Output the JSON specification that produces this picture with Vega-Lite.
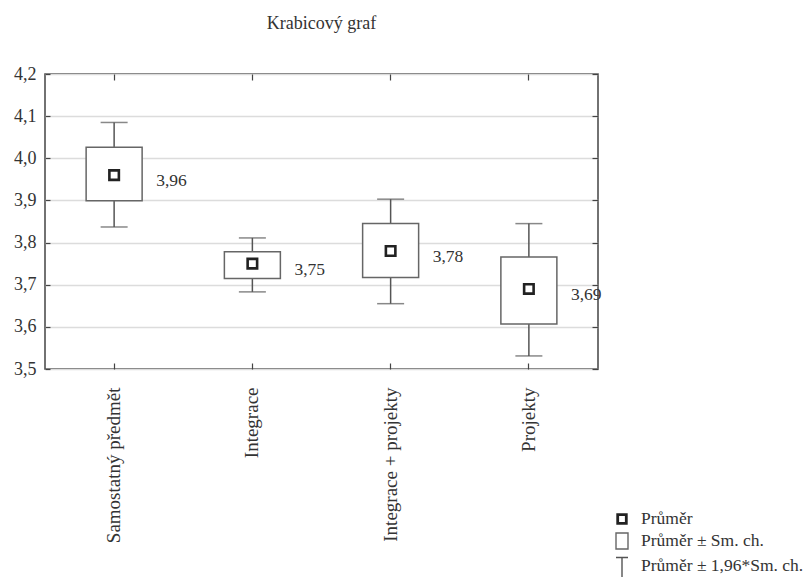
{
  "$schema": "https://vega.github.io/schema/vega-lite/v6.json",
  "width": 553,
  "height": 295,
  "autosize": {"type": "none"},
  "padding": {"left": 45, "top": 74, "right": 210, "bottom": 208},
  "background": "white",
  "title": {
    "text": "Krabicový graf",
    "font": "Liberation Serif",
    "fontSize": 18,
    "fontWeight": "normal",
    "color": "#333",
    "anchor": "middle",
    "offset": 32
  },
  "config": {
    "locale": {
      "number": {"decimal": ",", "thousands": " ", "grouping": [3], "currency": ["", " Kč"]}
    },
    "view": {"stroke": "#444", "strokeWidth": 1.5},
    "font": "Liberation Serif",
    "axis": {
      "labelFont": "Liberation Serif",
      "labelFontSize": 18,
      "labelColor": "#333",
      "tickColor": "#444",
      "tickWidth": 1.2,
      "domain": false,
      "grid": false,
      "title": null
    },
    "legend": {
      "labelFont": "Liberation Serif",
      "labelFontSize": 17.5,
      "labelColor": "#333",
      "labelLimit": 300
    }
  },
  "datasets": {
    "skupiny": [
      {"kat": "Samostatný předmět", "prumer": 3.96, "sm_lo": 3.899, "sm_hi": 4.026, "ci_lo": 3.837, "ci_hi": 4.085},
      {"kat": "Integrace", "prumer": 3.75, "sm_lo": 3.715, "sm_hi": 3.778, "ci_lo": 3.683, "ci_hi": 3.811},
      {"kat": "Integrace + projekty", "prumer": 3.78, "sm_lo": 3.717, "sm_hi": 3.845, "ci_lo": 3.655, "ci_hi": 3.903},
      {"kat": "Projekty", "prumer": 3.69, "sm_lo": 3.607, "sm_hi": 3.766, "ci_lo": 3.531, "ci_hi": 3.845}
    ],
    "polozky": [
      {"polozka": "Průměr"},
      {"polozka": "Průměr ± Sm. ch."},
      {"polozka": "Průměr ± 1,96*Sm. ch."}
    ]
  },
  "layer": [
    {
      "data": {"name": "skupiny"},
      "mark": {"type": "rule", "color": "#555", "strokeWidth": 1.5},
      "encoding": {
        "x": {
          "field": "kat",
          "type": "nominal",
          "scale": {
            "type": "band",
            "paddingInner": 0,
            "paddingOuter": 0,
            "domain": ["Samostatný předmět", "Integrace", "Integrace + projekty", "Projekty"]
          },
          "axis": {"orient": "bottom", "labelAngle": -90, "labelFontSize": 19, "tickSize": -6, "labelPadding": 24, "labelLimit": 300}
        },
        "y": {
          "field": "ci_lo",
          "type": "quantitative",
          "scale": {"domain": [3.5, 4.2], "nice": false, "zero": false},
          "axis": {
            "orient": "left",
            "values": [3.5, 3.6, 3.7, 3.8, 3.9, 4.0, 4.1, 4.2],
            "format": ".1f",
            "grid": true,
            "gridColor": "#dcdcdc",
            "gridWidth": 1.3,
            "tickSize": -5,
            "labelPadding": 14
          }
        },
        "y2": {"field": "ci_hi"}
      }
    },
    {
      "data": {"name": "skupiny"},
      "mark": {"type": "tick", "size": 27, "thickness": 1.5, "color": "#555"},
      "encoding": {
        "x": {"field": "kat", "type": "nominal", "axis": {"orient": "top", "labels": false, "tickSize": -6}},
        "y": {
          "field": "ci_lo",
          "type": "quantitative",
          "axis": {"orient": "right", "labels": false, "tickSize": -6, "values": [3.5, 3.6, 3.7, 3.8, 3.9, 4.0, 4.1, 4.2]}
        }
      }
    },
    {
      "data": {"name": "skupiny"},
      "mark": {"type": "tick", "size": 27, "thickness": 1.5, "color": "#555"},
      "encoding": {
        "x": {"field": "kat", "type": "nominal", "axis": null},
        "y": {"field": "ci_hi", "type": "quantitative", "axis": null}
      }
    },
    {
      "data": {"name": "skupiny"},
      "mark": {"type": "bar", "width": 56, "fill": "white", "stroke": "#666", "strokeWidth": 1.5},
      "encoding": {
        "x": {"field": "kat", "type": "nominal", "axis": null},
        "y": {"field": "sm_lo", "type": "quantitative", "axis": null},
        "y2": {"field": "sm_hi"}
      }
    },
    {
      "data": {"name": "skupiny"},
      "mark": {"type": "point", "shape": "square", "size": 90, "filled": false, "stroke": "#222", "strokeWidth": 2.6, "opacity": 1},
      "encoding": {
        "x": {"field": "kat", "type": "nominal", "axis": null},
        "y": {"field": "prumer", "type": "quantitative", "axis": null}
      }
    },
    {
      "data": {"name": "skupiny"},
      "mark": {"type": "text", "align": "left", "baseline": "middle", "dx": 42, "dy": 6, "fontSize": 17.5, "font": "Liberation Serif", "color": "#333"},
      "encoding": {
        "x": {"field": "kat", "type": "nominal", "axis": null},
        "y": {"field": "prumer", "type": "quantitative", "axis": null},
        "text": {"field": "prumer", "type": "quantitative", "format": ".2f"}
      }
    },
    {
      "data": {"name": "polozky"},
      "mark": {"type": "point", "size": 0, "filled": false, "strokeWidth": 1.4, "opacity": 1},
      "encoding": {
        "shape": {
          "field": "polozka",
          "type": "nominal",
          "scale": {
            "domain": ["Průměr", "Průměr ± Sm. ch.", "Průměr ± 1,96*Sm. ch."],
            "range": [
              "M-0.5,-0.5H0.5V0.5H-0.5Z M-0.36,-0.36H0.36V0.36H-0.36Z M-0.43,-0.43H0.43V0.43H-0.43Z",
              "M-0.6,-0.8H0.6V0.8H-0.6Z",
              "M-0.6,-0.85H0.6M0,-0.85V1.1"
            ]
          },
          "legend": {
            "title": null,
            "orient": "none",
            "legendX": 566,
            "legendY": 434,
            "symbolSize": 400,
            "labelOffset": 8,
            "rowPadding": 2,
            "symbolStrokeWidth": 1.4
          }
        },
        "stroke": {
          "field": "polozka",
          "type": "nominal",
          "scale": {
            "domain": ["Průměr", "Průměr ± Sm. ch.", "Průměr ± 1,96*Sm. ch."],
            "range": ["#222", "#666", "#555"]
          },
          "legend": {
            "title": null,
            "orient": "none",
            "legendX": 566,
            "legendY": 434,
            "symbolSize": 400,
            "labelOffset": 8,
            "rowPadding": 2,
            "symbolStrokeWidth": 1.4
          }
        }
      }
    }
  ],
  "resolve": {"axis": {"x": "independent", "y": "independent"}}
}
